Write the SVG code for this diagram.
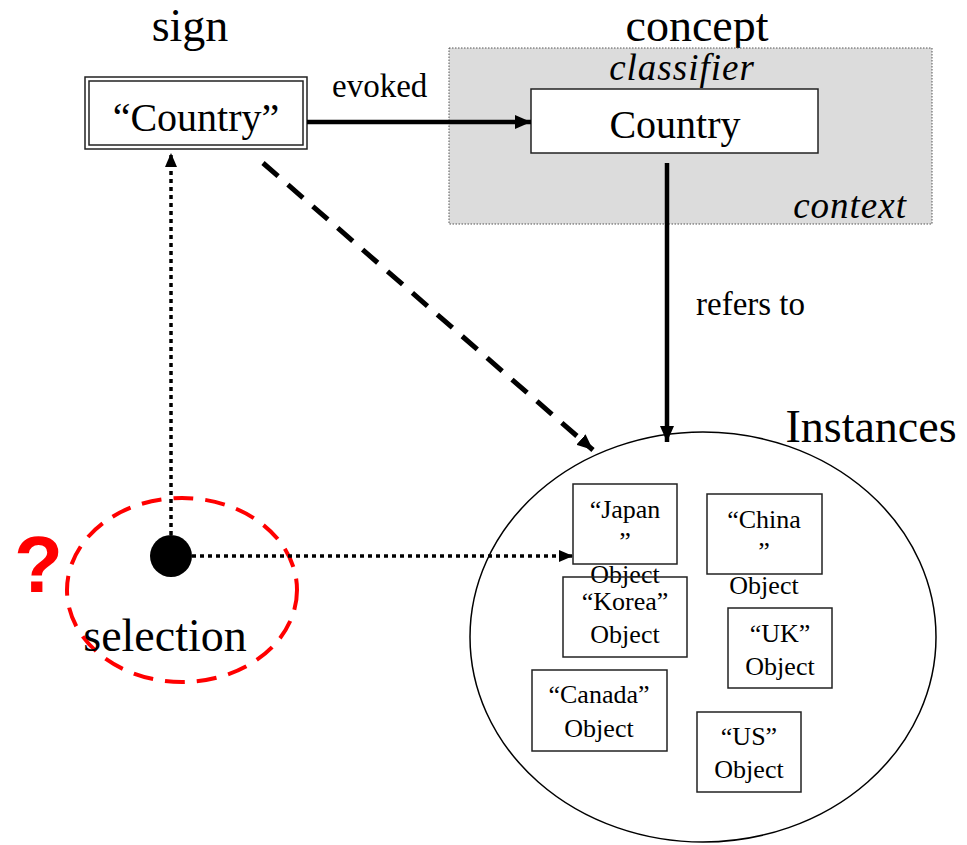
<svg xmlns="http://www.w3.org/2000/svg" width="967" height="845" viewBox="0 0 967 845">
  <style>
    text { font-family: "Liberation Serif", "Times New Roman", serif; fill: #000; }
    .title { font-size: 46px; }
    .label { font-size: 33px; }
    .cls { font-size: 40px; }
    .ital { font-style: italic; font-size: 37px; letter-spacing: 1px; }
    .obj { font-size: 26px; text-anchor: middle; }
    .mark { font-family: "Liberation Sans", Arial, sans-serif; font-weight: bold; font-size: 80px; fill: #ff0000; }
    .objbox { fill: #fff; stroke: #222; stroke-width: 1.5; }
    .solid { stroke: #000; stroke-width: 4.5; fill: none; }
    .dashed { stroke: #000; stroke-width: 5; fill: none; stroke-dasharray: 20 13; }
    .dotted { stroke: #000; stroke-width: 3.5; fill: none; stroke-dasharray: 4 4; }
  </style>
  <defs>
    <marker id="head" viewBox="0 0 16 14" refX="16" refY="7" markerWidth="16" markerHeight="14" markerUnits="userSpaceOnUse" orient="auto">
      <path d="M0,0 L16,7 L0,14 Z" fill="#000"/>
    </marker>
    <marker id="headSmall" viewBox="0 0 14 12" refX="14" refY="6" markerWidth="14" markerHeight="12" markerUnits="userSpaceOnUse" orient="auto">
      <path d="M0,0 L14,6 L0,12 Z" fill="#000"/>
    </marker>
  </defs>

  <rect width="967" height="845" fill="#fff"/>

  <!-- headings -->
  <text class="title" x="190" y="41" text-anchor="middle">sign</text>
  <text class="title" x="697" y="41" text-anchor="middle">concept</text>
  <text class="title" x="871" y="442" text-anchor="middle">Instances</text>

  <!-- concept area with its classifier -->
  <g id="concept">
    <rect x="449" y="48" width="483" height="176" fill="#dcdcdc" stroke="#555" stroke-width="1" stroke-dasharray="1.5 1.5"/>
    <text class="ital" x="682" y="80" text-anchor="middle">classifier</text>
    <text class="ital" x="907" y="218" text-anchor="end">context</text>
    <rect x="531" y="89" width="287" height="64" fill="#fff" stroke="#222" stroke-width="1.5"/>
    <text class="cls" x="675" y="138" text-anchor="middle">Country</text>
  </g>

  <!-- sign box with double border -->
  <g id="sign">
    <rect x="85" y="77" width="222" height="72" fill="#fff" stroke="#222" stroke-width="1.5"/>
    <rect x="89" y="81" width="214" height="64" fill="none" stroke="#222" stroke-width="1.5"/>
    <text class="cls" x="196" y="131" text-anchor="middle">“Country”</text>
  </g>

  <!-- instances set -->
  <g id="instances">
    <ellipse cx="703" cy="637" rx="233" ry="205" fill="#fff" stroke="#000" stroke-width="1.5"/>
  </g>

  <g id="japan">
    <rect class="objbox" x="573" y="484" width="104" height="80"/>
    <text class="obj" x="625" y="518">“Japan</text>
    <text class="obj" x="625" y="550">”</text>
    <text class="obj" x="625" y="583">Object</text>
  </g>
  <g id="china">
    <rect class="objbox" x="707" y="494" width="115" height="80"/>
    <text class="obj" x="764" y="528">“China</text>
    <text class="obj" x="764" y="560">”</text>
    <text class="obj" x="764" y="594">Object</text>
  </g>
  <g id="korea">
    <rect class="objbox" x="563" y="577" width="124" height="80" fill-opacity="0"/>
    <text class="obj" x="625" y="610">“Korea”</text>
    <text class="obj" x="625" y="643">Object</text>
  </g>
  <g id="uk">
    <rect class="objbox" x="728" y="608" width="104" height="80"/>
    <text class="obj" x="780" y="642">“UK”</text>
    <text class="obj" x="780" y="675">Object</text>
  </g>
  <g id="canada">
    <rect class="objbox" x="532" y="670" width="135" height="81"/>
    <text class="obj" x="599" y="703">“Canada”</text>
    <text class="obj" x="599" y="737">Object</text>
  </g>
  <g id="us">
    <rect class="objbox" x="697" y="712" width="104" height="80"/>
    <text class="obj" x="749" y="745">“US”</text>
    <text class="obj" x="749" y="778">Object</text>
  </g>

  <!-- selection -->
  <g id="selection">
    <ellipse cx="182" cy="590" rx="115" ry="92" fill="none" stroke="#ff0000" stroke-width="4" stroke-dasharray="20 12"/>
    <text class="mark" x="14" y="592">?</text>
    <text x="165" y="651" font-size="46" text-anchor="middle">selection</text>
    <circle cx="171" cy="556" r="21" fill="#000"/>
  </g>

  <!-- connectors -->
  <g id="connectors">
    <line class="solid" x1="307" y1="122" x2="531" y2="122" marker-end="url(#head)"/>
    <text class="label" x="332" y="97">evoked</text>
    <line class="solid" x1="667" y1="163" x2="667" y2="442" marker-end="url(#head)"/>
    <text class="label" x="696" y="315">refers to</text>
    <line class="dashed" x1="263" y1="163" x2="593" y2="450" marker-end="url(#head)"/>
    <line class="dotted" x1="171" y1="535" x2="171" y2="153" marker-end="url(#headSmall)"/>
    <line class="dotted" x1="192" y1="556" x2="573" y2="556" marker-end="url(#headSmall)"/>
  </g>
</svg>
